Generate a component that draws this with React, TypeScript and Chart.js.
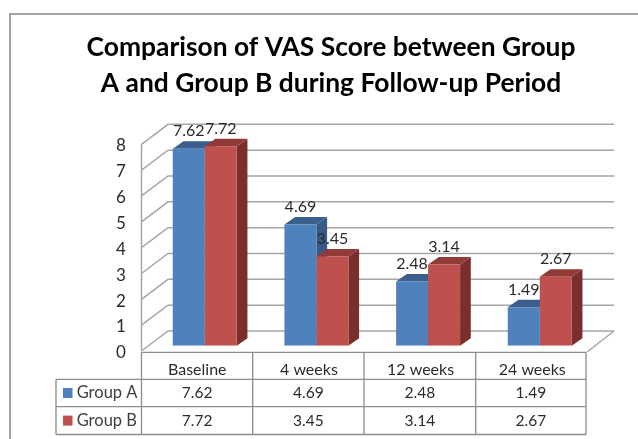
import React, { useEffect, useRef } from "react";
import { Chart, registerables } from "chart.js";

Chart.register(...registerables);

const categories = ["Baseline", "4 weeks", "12 weeks", "24 weeks"];
const groupAValues = [7.62, 4.69, 2.48, 1.49];
const groupBValues = [7.72, 3.45, 3.14, 2.67];
const titleLines = [
  "Comparison of VAS Score between Group",
  "A and Group B during Follow-up Period",
];

const FONT = "Lato, 'Open Sans', sans-serif";
const GRID = "#a6a6a6";
const TABLE_LINE = "#8c8c8c";
const TEXT = "#2b2b2b";

const palette = [
  { name: "Group A", front: "#4f81bd", top: "#3a5f8d", side: "#375a86" },
  { name: "Group B", front: "#c0504d", top: "#913b39", side: "#7a2f2e" },
];

const depthPlugin = {
  id: "depth3d",
  beforeDatasetsDraw(chart: any) {
    const { ctx, scales } = chart;
    const y = scales.y;
    const frontX = 141.5, backX = 168, endX = 614, floorEndX = 587;
    const frontDy = 5.3, backDy = -14.7;
    ctx.save();
    ctx.strokeStyle = GRID;
    ctx.lineWidth = 1.5;
    y.ticks.forEach((t: any) => {
      const p = y.getPixelForValue(t.value);
      ctx.beginPath();
      ctx.moveTo(frontX, p + frontDy);
      ctx.lineTo(backX, p + backDy);
      ctx.lineTo(endX, p + backDy);
      ctx.stroke();
    });
    const p0 = y.getPixelForValue(0);
    const p8 = y.getPixelForValue(8);
    ctx.beginPath();
    ctx.moveTo(frontX, p8 + frontDy);
    ctx.lineTo(frontX, p0 + frontDy);
    ctx.moveTo(endX, p0 + backDy);
    ctx.lineTo(floorEndX, p0 + frontDy + 1);
    ctx.stroke();

    // 3D side and top faces, left series first so the next series covers it
    const dx = 10.7, dy = 7.5;
    chart.data.datasets.forEach((_: any, i: number) => {
      const colors = palette[i];
      chart.getDatasetMeta(i).data.forEach((bar: any) => {
        const l = bar.x - bar.width / 2;
        const r = bar.x + bar.width / 2;
        ctx.fillStyle = colors.side;
        ctx.beginPath();
        ctx.moveTo(r, bar.y);
        ctx.lineTo(r + dx, bar.y - dy);
        ctx.lineTo(r + dx, bar.base - dy);
        ctx.lineTo(r, bar.base);
        ctx.closePath();
        ctx.fill();
        ctx.fillStyle = colors.top;
        ctx.beginPath();
        ctx.moveTo(l, bar.y);
        ctx.lineTo(l + dx, bar.y - dy);
        ctx.lineTo(r + dx, bar.y - dy);
        ctx.lineTo(r, bar.y);
        ctx.closePath();
        ctx.fill();
      });
    });
    ctx.restore();
  },
  afterDatasetsDraw(chart: any) {
    const { ctx } = chart;
    ctx.save();
    ctx.font = `16px ${FONT}`;
    ctx.fillStyle = TEXT;
    ctx.textAlign = "center";
    ctx.textBaseline = "middle";
    chart.data.datasets.forEach((ds: any, i: number) => {
      chart.getDatasetMeta(i).data.forEach((bar: any, j: number) => {
        ctx.fillText(ds.data[j].toFixed(2), bar.x, bar.y - 17.5);
      });
    });
    ctx.restore();
  },
  afterDraw(chart: any) {
    const { ctx } = chart;
    const cols = [141.5, 252.7, 364, 475.7, 586];
    const rows = [352.3, 379.3, 406.7, 434.5];
    const legendLeft = 56;
    ctx.save();
    // outer chart frame
    ctx.strokeStyle = "#868686";
    ctx.lineWidth = 1.5;
    ctx.beginPath();
    ctx.moveTo(10, 439);
    ctx.lineTo(10, 14);
    ctx.lineTo(638, 14);
    ctx.stroke();
    // data table
    ctx.strokeStyle = TABLE_LINE;
    ctx.lineWidth = 1.3;
    ctx.beginPath();
    rows.forEach((yy, i) => {
      ctx.moveTo(i === 0 ? cols[0] : legendLeft, yy);
      ctx.lineTo(cols[cols.length - 1], yy);
    });
    cols.forEach((xx) => {
      ctx.moveTo(xx, rows[0]);
      ctx.lineTo(xx, rows[3]);
    });
    ctx.moveTo(legendLeft, rows[1]);
    ctx.lineTo(legendLeft, rows[3]);
    ctx.stroke();
    ctx.textBaseline = "middle";
    chart.data.datasets.forEach((ds: any, i: number) => {
      const cy = (rows[i + 1] + rows[i + 2]) / 2;
      ctx.fillStyle = palette[i].front;
      ctx.fillRect(63, cy - 5, 9.5, 10);
      ctx.font = `16.5px ${FONT}`;
      ctx.fillStyle = "#404040";
      ctx.textAlign = "left";
      ctx.fillText(ds.label, 76.7, cy);
      ctx.font = `15.5px ${FONT}`;
      ctx.fillStyle = TEXT;
      ctx.textAlign = "center";
      ds.data.forEach((v: number, j: number) => {
        ctx.fillText(v.toFixed(2), (cols[j] + cols[j + 1]) / 2, cy);
      });
    });
    ctx.restore();
  },
};

export default function App() {
  const ref = useRef<HTMLCanvasElement>(null);
  useEffect(() => {
    const canvas = ref.current!;
    const chart = new Chart(canvas, {
      type: "bar",
      data: {
        labels: categories,
        datasets: [
          { label: palette[0].name, data: groupAValues, backgroundColor: palette[0].front },
          { label: palette[1].name, data: groupBValues, backgroundColor: palette[1].front },
        ],
      },
      options: {
        responsive: false,
        animation: false,
        events: [],
        layout: { padding: { left: 66.4, right: 42.4, top: 0, bottom: 0 } },
        categoryPercentage: 0.573,
        barPercentage: 1,
        scales: {
          x: {
            grid: { display: false },
            border: { display: false },
            ticks: {
              color: TEXT,
              font: { family: FONT, size: 16 },
              labelOffset: -7.5,
              padding: 7,
              maxRotation: 0,
            },
            afterFit(s: any) {
              s.height = 93.3;
            },
          },
          y: {
            min: 0,
            max: 8,
            grid: { display: false },
            border: { display: false },
            ticks: {
              stepSize: 1,
              color: TEXT,
              font: { family: FONT, size: 17 },
              padding: 15,
              labelOffset: 7,
            },
            afterFit(s: any) {
              s.width = 82.5;
            },
          },
        },
        plugins: {
          legend: { display: false },
          tooltip: { enabled: false },
          title: {
            display: true,
            text: titleLines,
            color: "#000000",
            font: { family: FONT, size: 26.4, weight: "bold", lineHeight: 1.3636 },
            padding: { top: 29, bottom: 38 },
          },
        },
      } as any,
      plugins: [depthPlugin],
    });
    return () => chart.destroy();
  }, []);
  return (
    <div style={{ position: "absolute", left: 0, top: 0, width: 638, height: 439 }}>
      <canvas ref={ref} width={638} height={439} style={{ display: "block" }} />
    </div>
  );
}
